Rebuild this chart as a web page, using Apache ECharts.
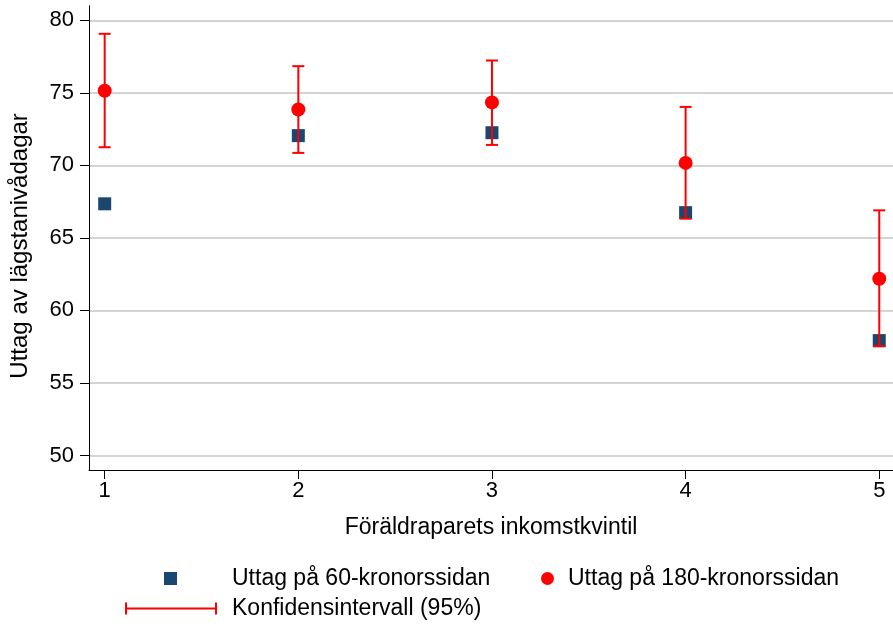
<!DOCTYPE html>
<html>
<head>
<meta charset="utf-8">
<script src="https://cdn.jsdelivr.net/npm/echarts@6/dist/echarts.min.js"></script>
<style>
  html, body { margin: 0; padding: 0; background: #fff; }
  #chart { width: 893px; height: 626px; }
</style>
</head>
<body>
<div id="chart"></div>
<script>
// kvintiler
const quintiles = [1, 2, 3, 4, 5];
// Uttag på 60-kronorssidan
const low60 = [67.35, 72.05, 72.25, 66.74, 57.92];
// Uttag på 180-kronorssidan
const high180 = [75.14, 73.85, 74.34, 70.17, 62.18];
// konfidensintervall (95%)
const ciLow = [71.25, 70.86, 71.41, 66.33, 57.53];
const ciHigh = [79.07, 76.84, 77.23, 74.03, 66.9];
const yTicks = [50, 55, 60, 65, 70, 75, 80];

const FONT = 'Arial, "Liberation Sans", sans-serif';
const RED = '#ff0000';
const NAVY = '#1a476f';

const chart = echarts.init(document.getElementById('chart'));

const ciData = quintiles.map((q, i) => [q, ciLow[i], ciHigh[i]]);

const renderCI = (params, api) => {
  const x = api.value(0);
  const top = api.coord([x, api.value(2)]);
  const bot = api.coord([x, api.value(1)]);
  const hw = 6;
  const st = { stroke: RED, lineWidth: 2 };
  return {
    type: 'group',
    children: [
      { type: 'line', shape: { x1: top[0], y1: top[1], x2: bot[0], y2: bot[1] }, style: st },
      { type: 'line', shape: { x1: top[0] - hw, y1: top[1], x2: top[0] + hw, y2: top[1] }, style: st },
      { type: 'line', shape: { x1: bot[0] - hw, y1: bot[1], x2: bot[0] + hw, y2: bot[1] }, style: st }
    ]
  };
};

const legendText = (pad) => ({
  fontFamily: FONT,
  fontSize: 23,
  color: '#000',
  padding: [0, 0, 0, pad]
});

const option = {
  animation: false,
  backgroundColor: '#fff',
  grid: { left: 89, right: 0, top: 5.8, bottom: 156 },
  xAxis: {
    type: 'value',
    min: 0.919,
    max: 5.071,
    name: 'Föräldraparets inkomstkvintil',
    nameLocation: 'middle',
    nameGap: 46,
    nameTextStyle: { fontFamily: FONT, fontSize: 23, color: '#000' },
    axisLine: { onZero: false, lineStyle: { color: '#000', width: 1 } },
    axisTick: { customValues: quintiles, length: 9, lineStyle: { color: '#000' } },
    axisLabel: { customValues: quintiles, margin: 10, fontFamily: FONT, fontSize: 22, color: '#000' },
    splitLine: { show: false }
  },
  yAxis: {
    type: 'value',
    min: 49,
    max: 81,
    name: 'Uttag av lägstanivådagar',
    nameLocation: 'middle',
    nameGap: 57,
    nameTextStyle: { fontFamily: FONT, fontSize: 24, color: '#000', padding: [0, 16, 0, 0] },
    axisLine: { show: true, onZero: false, lineStyle: { color: '#000', width: 1 } },
    axisTick: { show: true, customValues: yTicks, length: 9, lineStyle: { color: '#000' } },
    axisLabel: { customValues: yTicks, margin: 15, fontFamily: FONT, fontSize: 22, color: '#000' },
    splitLine: { show: true, lineStyle: { color: '#d4d4d4', width: 2 } }
  },
  legend: [
    {
      data: ['Uttag på 60-kronorssidan'],
      left: 164, top: 567, padding: 0,
      itemWidth: 13, itemHeight: 13,
      icon: 'rect',
      textStyle: legendText(50)
    },
    {
      data: ['Uttag på 180-kronorssidan'],
      left: 541, top: 567, padding: 0,
      itemWidth: 13, itemHeight: 13,
      icon: 'circle',
      textStyle: legendText(9)
    },
    {
      data: [{
        name: 'Konfidensintervall (95%)',
        icon: 'path://M0,0L2,0L2,5L90,5L90,0L92,0L92,12L90,12L90,7L2,7L2,12L0,12Z'
      }],
      left: 125, top: 597, padding: 0,
      itemWidth: 92, itemHeight: 12,
      textStyle: legendText(10)
    }
  ],
  series: [
    {
      name: 'Uttag på 60-kronorssidan',
      type: 'scatter',
      symbol: 'rect',
      symbolSize: 13,
      z: 2,
      itemStyle: { color: NAVY, opacity: 1 },
      data: quintiles.map((q, i) => [q, low60[i]])
    },
    {
      name: 'Konfidensintervall (95%)',
      type: 'custom',
      z: 3,
      itemStyle: { color: RED },
      renderItem: renderCI,
      encode: { x: 0, y: [1, 2] },
      data: ciData
    },
    {
      name: 'Uttag på 180-kronorssidan',
      type: 'scatter',
      symbol: 'circle',
      symbolSize: 14,
      z: 4,
      itemStyle: { color: RED, opacity: 1 },
      data: quintiles.map((q, i) => [q, high180[i]])
    }
  ]
};

chart.setOption(option);
</script>
</body>
</html>
